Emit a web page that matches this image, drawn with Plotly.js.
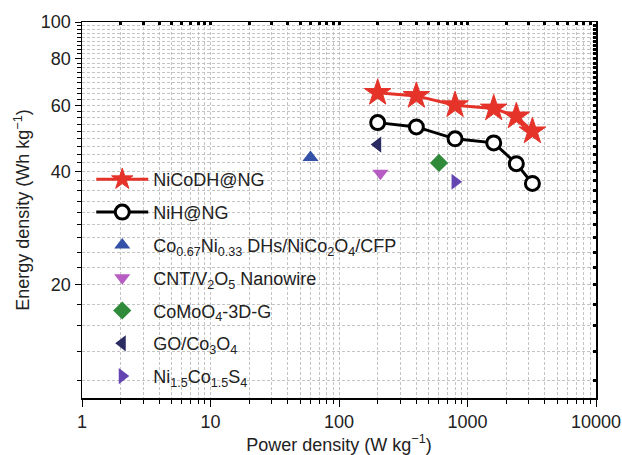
<!DOCTYPE html>
<html>
<head>
<meta charset="utf-8">
<script src="https://cdn.plot.ly/plotly-3.0.1.min.js"></script>
<style>html,body{margin:0;padding:0;background:#fff;}#chart{width:622px;height:455px;}</style>
</head>
<body>
<div id="chart"></div>
<script>
// ---- data ----
const nicodhPower  = [200, 400, 800, 1600, 2400, 3200];
const nicodhEnergy = [64.8, 63.6, 60.1, 58.9, 56.1, 51.2];
const nihPower  = [200, 400, 800, 1600, 2400, 3200];
const nihEnergy = [54.0, 52.6, 48.9, 47.7, 42.0, 37.2];
const refNames = [
  'Co<sub>0.67</sub>Ni<sub>0.33</sub> DHs/NiCo<sub>2</sub>O<sub>4</sub>/CFP',
  'CNT/V<sub>2</sub>O<sub>5</sub> Nanowire',
  'CoMoO<sub>4</sub>-3D-G',
  'GO/Co<sub>3</sub>O<sub>4</sub>',
  'Ni<sub>1.5</sub>Co<sub>1.5</sub>S<sub>4</sub>'
];
const refPower  = [60, 210, 600, 200, 800];
const refEnergy = [43.6, 39.6, 42.2, 47.2, 37.6];
const refSymbols = ['triangle-up', 'triangle-down', 'diamond', 'triangle-left', 'triangle-right'];
const refColors  = ['#3451a8', '#b65cc2', '#2f8a3a', '#2b2b62', '#6545b2'];

const xMajorVals = [1, 10, 100, 1000, 10000];
const xMajorText = ['1', '10', '100', '1000', '10000'];
const yMajorVals = [20, 40, 60, 80, 100];
const yMajorText = ['20', '40', '60', '80', '100'];

// minor tick positions (axis decoration)
const xMinor = [];
for (let d = 0; d < 4; d++) for (let k = 2; k <= 9; k++) xMinor.push(k * Math.pow(10, d));
const yMinor = [];
for (let m = 0; m < 100; m += 20) for (let j = 1; j <= 8; j++) { const v = m + j * 20 / 9; if (v >= 10) yMinor.push(v); }

const gridColor = '#c4c4c4';
const gridDash = '3px,2px';
const font = 'Liberation Sans, Arial, sans-serif';
const fs = 18;

const traces = [
  {x: nicodhPower, y: nicodhEnergy, name: 'NiCoDH@NG', mode: 'lines+markers', legendgroup: 'a',
   line: {color: '#e5332a', width: 3},
   marker: {symbol: 'star', size: 20, color: '#e5332a', line: {color: '#e5332a', width: 1}}},
  {x: nihPower, y: nihEnergy, name: 'NiH@NG', mode: 'lines+markers', legendgroup: 'b',
   line: {color: '#000', width: 3},
   marker: {symbol: 'circle', size: 14, color: '#fff', line: {color: '#000', width: 3}}}
];
refNames.forEach((n, i) => {
  traces.push({x: [refPower[i]], y: [refEnergy[i]], name: n, mode: 'markers', legendgroup: 'r' + i,
    marker: {symbol: refSymbols[i], size: 14, color: refColors[i], line: {width: 0}}});
});
traces.push({x: [], y: [], xaxis: 'x2', yaxis: 'y2', showlegend: false, hoverinfo: 'skip'});

const layout = {
  width: 622, height: 455,
  margin: {l: 82, r: 26, t: 22, b: 57},
  paper_bgcolor: '#fff', plot_bgcolor: '#fff',
  font: {family: font, size: fs, color: '#222'},
  showlegend: true,
  legend: {x: 0.018, y: 0.63, xanchor: 'left', yanchor: 'top', bgcolor: 'rgba(0,0,0,0)',
           font: {family: font, size: fs, color: '#222'}, tracegroupgap: 6.4, itemwidth: 52},
  xaxis: {
    type: 'log', range: [0, 4],
    tickmode: 'array', tickvals: xMajorVals, ticktext: xMajorText,
    ticks: 'outside', ticklen: 7, tickwidth: 1, tickcolor: '#000',
    showline: true, linecolor: '#000', linewidth: 1.5, mirror: true,
    showgrid: true, gridcolor: gridColor, griddash: gridDash, gridwidth: 1,
    minor: {tickmode: 'array', tickvals: xMinor, ticks: 'outside', ticklen: 4, tickwidth: 1, tickcolor: '#000',
            showgrid: true, gridcolor: gridColor, griddash: gridDash, gridwidth: 1},
    zeroline: false,
    tickfont: {family: font, size: fs, color: '#222'},
    title: {text: 'Power density (W kg<sup>\u22121</sup>)', font: {family: font, size: fs, color: '#222'}, standoff: 11}
  },
  yaxis: {
    type: 'log', range: [1, 2],
    tickmode: 'array', tickvals: yMajorVals, ticktext: yMajorText,
    ticks: 'outside', ticklen: 6, tickwidth: 1, tickcolor: '#000',
    showline: true, linecolor: '#000', linewidth: 1.5, mirror: true,
    showgrid: true, gridcolor: gridColor, griddash: gridDash, gridwidth: 1,
    minor: {tickmode: 'array', tickvals: yMinor, ticks: 'outside', ticklen: 4, tickwidth: 1, tickcolor: '#000',
            showgrid: true, gridcolor: gridColor, griddash: gridDash, gridwidth: 1},
    zeroline: false,
    tickfont: {family: font, size: fs, color: '#222'},
    title: {text: 'Energy density (Wh kg<sup>\u22121</sup>)', font: {family: font, size: fs, color: '#222'}, standoff: 6}
  },
  xaxis2: {
    type: 'log', range: [0, 4], overlaying: 'x', anchor: 'y2', side: 'top',
    tickmode: 'array', tickvals: xMajorVals.concat(xMinor),
    ticks: 'inside', ticklen: 3, tickwidth: 3, tickcolor: '#000',
    showticklabels: false, showgrid: false, showline: false, zeroline: false
  },
  yaxis2: {
    type: 'log', range: [1, 2], overlaying: 'y', anchor: 'x2', side: 'right',
    tickmode: 'array', tickvals: yMajorVals.concat(yMinor),
    ticks: 'inside', ticklen: 3, tickwidth: 3, tickcolor: '#000',
    showticklabels: false, showgrid: false, showline: false, zeroline: false
  }
};

Plotly.newPlot('chart', traces, layout, {displayModeBar: false, staticPlot: true});
</script>
</body>
</html>
